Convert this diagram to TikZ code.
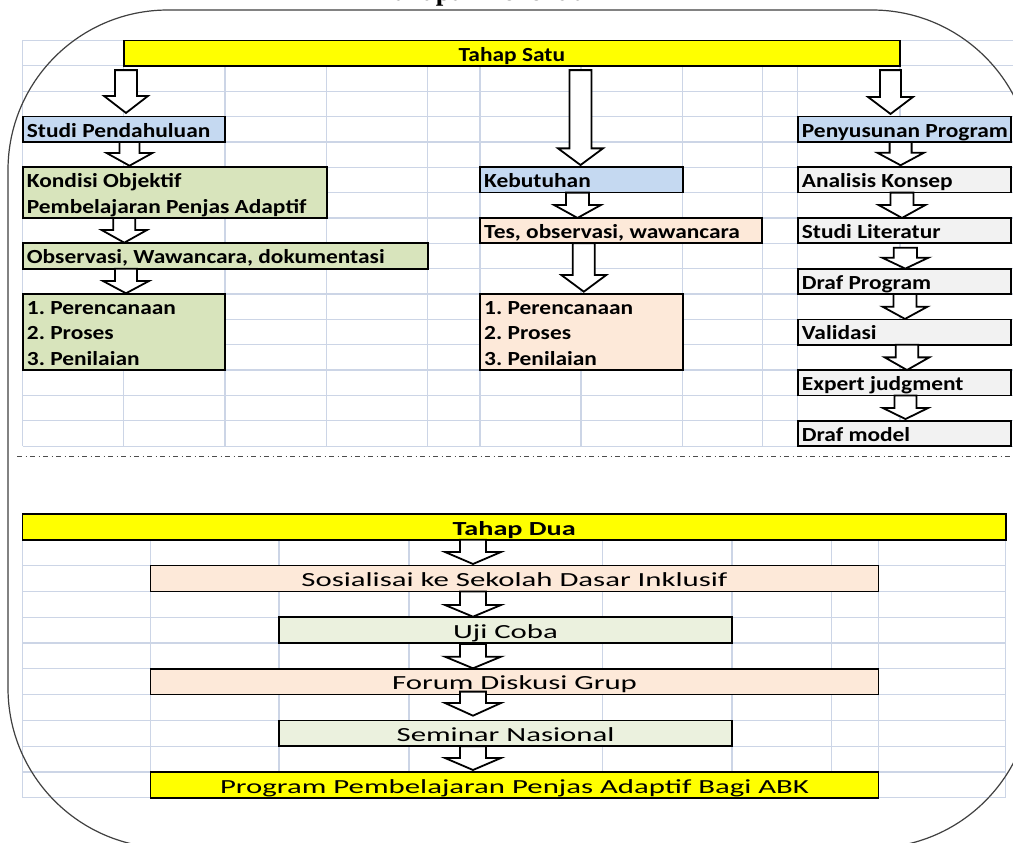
\documentclass[tikz,border=0pt]{standalone}
\usepackage{fontspec}
\usepackage{graphicx}
\usetikzlibrary{calc}
\newfontfamily\topf{Carlito}[FakeStretch=1.17]
\newfontfamily\botf{Carlito}[FakeStretch=1.54]
\newfontfamily\botbf{Carlito}[FakeStretch=1.41]
\newfontfamily\titlef{Liberation Serif}
\definecolor{yel}{HTML}{FFFF00}
\definecolor{blu}{HTML}{C5D9F1}
\definecolor{grn}{HTML}{D8E4BC}
\definecolor{pch}{HTML}{FDE9D9}
\definecolor{gry}{HTML}{F2F2F2}
\definecolor{lgr}{HTML}{EBF1DE}
\definecolor{gridc}{HTML}{CCD5E6}
\frenchspacing
\tikzset{
  gridline/.style={draw=gridc, line width=1.2pt},
  cellbx/.style={draw=black, line width=1.7pt, rectangle, inner sep=0pt, outer sep=0pt},
  ttext/.style={font=\topf\bfseries\fontsize{20}{24}\selectfont, inner sep=0pt, anchor=base west},
  ttextc/.style={font=\topf\bfseries\fontsize{20}{24}\selectfont, inner sep=0pt, anchor=base},
  btext/.style={font=\botf\fontsize{20}{24}\selectfont, inner sep=0pt, anchor=base},
  bbtext/.style={font=\botbf\bfseries\fontsize{20}{24}\selectfont, inner sep=0pt, anchor=base},
  blockarrow/.style={draw=black, fill=white, line width=1.8pt, line join=miter},
}
% #1 x-coordinate name, #2 from anchor, #3 to anchor, #4 top gap, #5 tip gap, #6 shaft half width, #7 head half width, #8 head length
\newcommand\blockarr[8]{%
  \draw[blockarrow] let \p1=(#1), \p2=(#2), \p3=(#3) in
    ({\x1-(#6pt)},{\y2-(#4pt)}) -- ({\x1+(#6pt)},{\y2-(#4pt)}) --
    ({\x1+(#6pt)},{\y3+(#5pt)+(#8pt)}) -- ({\x1+(#7pt)},{\y3+(#5pt)+(#8pt)}) --
    ({\x1},{\y3+(#5pt)}) --
    ({\x1-(#7pt)},{\y3+(#5pt)+(#8pt)}) -- ({\x1-(#6pt)},{\y3+(#5pt)+(#8pt)}) -- cycle;}
\begin{document}
\begin{tikzpicture}[x=1pt,y=-1pt]
\useasboundingbox (0,0) rectangle (1013,843);
\clip (0,0) rectangle (1013,843);
\fill[white] (0,0) rectangle (1013,843);

% title (mostly cut off at the top)
\node[font=\titlef\bfseries\fontsize{27}{30}\selectfont, inner sep=0pt, anchor=base west] (title) at (378,1) {Tahapan Penelitian};

% top grid
\foreach \i in {0,...,16} \draw[gridline] (22.7,{40.5+25.35*\i}) -- (1013,{40.5+25.35*\i});
\foreach \x in {22.7,123.7,225,326.7,427.7,480,581,682.7,762.3,797.7,900} \draw[gridline] (\x,40.5) -- (\x,446.1);

% bottom grid
\foreach \i in {0,...,11} \draw[gridline] (22.6,{514+25.8*\i}) -- (1005.8,{514+25.8*\i});
\foreach \x in {22.6,150.5,279,409,602.7,732,831.4,878.5,1005.8} \draw[gridline] (\x,514) -- (\x,797.8);

% separator
\draw[dash pattern=on 5pt off 3.5pt on 1pt off 3.5pt, line width=1pt, black!70] (17,456.7) -- (1013,456.7);

% ---------- Tahap Satu ----------
\node[cellbx, fill=yel, minimum width=776.3pt, minimum height=25.35pt] (ts) at (511.85,53.175) {};
\node[ttextc] (ts-t) at ([yshift=4.8pt]ts.south) {Tahap Satu};

\node[cellbx, fill=blu, minimum width=202.3pt, minimum height=25.35pt] (sp) at (123.85,129.225) {};
\node[ttext] (sp-t) at ([xshift=4pt,yshift=4.8pt]sp.south west) {Studi Pendahuluan};

\node[cellbx, fill=blu, minimum width=213.3pt, minimum height=25.35pt] (pp) at (904.35,129.225) {};
\node[ttext] (pp-t) at ([xshift=4pt,yshift=4.8pt]pp.south west) {Penyusunan Program};

\node[cellbx, fill=grn, minimum width=304pt, minimum height=50.7pt] (ko) at (174.7,192.6) {};
\node[ttext] (ko-t1) at ([xshift=4pt,yshift=30.15pt]ko.south west) {Kondisi Objektif};
\node[ttext] (ko-t2) at ([xshift=4pt,yshift=4.8pt]ko.south west) {Pembelajaran Penjas Adaptif};

\node[cellbx, fill=grn, minimum width=405pt, minimum height=25.35pt] (ob) at (225.2,255.975) {};
\node[ttext] (ob-t) at ([xshift=4pt,yshift=4.8pt]ob.south west) {Observasi, Wawancara, dokumentasi};

\node[cellbx, fill=grn, minimum width=202.3pt, minimum height=76.05pt] (la) at (123.85,332.025) {};
\node[ttext] (la-t1) at ([xshift=4pt,yshift=55.5pt]la.south west) {1. Perencanaan};
\node[ttext] (la-t2) at ([xshift=4pt,yshift=30.15pt]la.south west) {2. Proses};
\node[ttext] (la-t3) at ([xshift=4pt,yshift=4.8pt]la.south west) {3. Penilaian};

\node[cellbx, fill=blu, minimum width=202.7pt, minimum height=25.35pt] (kb) at (581.35,179.925) {};
\node[ttext] (kb-t) at ([xshift=4pt,yshift=4.8pt]kb.south west) {Kebutuhan};

\node[cellbx, fill=pch, minimum width=282.3pt, minimum height=25.35pt] (te) at (621.15,230.625) {};
\node[ttext] (te-t) at ([xshift=4pt,yshift=4.8pt]te.south west) {Tes, observasi, wawancara};

\node[cellbx, fill=pch, minimum width=202.7pt, minimum height=76.05pt] (lb) at (581.35,332.025) {};
\node[ttext] (lb-t1) at ([xshift=4pt,yshift=55.5pt]lb.south west) {1. Perencanaan};
\node[ttext] (lb-t2) at ([xshift=4pt,yshift=30.15pt]lb.south west) {2. Proses};
\node[ttext] (lb-t3) at ([xshift=4pt,yshift=4.8pt]lb.south west) {3. Penilaian};

\foreach \nm/\cy/\tx in {ak/179.925/Analisis Konsep, sl/230.625/Studi Literatur, dp/281.325/Draf Program, va/332.025/Validasi, ej/382.725/Expert judgment, dm/433.425/Draf model}{
  \node[cellbx, fill=gry, minimum width=213.3pt, minimum height=25.35pt] (\nm) at (904.35,\cy) {};
  \node[ttext] (\nm-t) at ([xshift=4pt,yshift=4.8pt]\nm.south west) {\tx};
}

% arrow axes
\coordinate (xa) at (126,0);
\coordinate (xb) at (580.5,0);
\coordinate (xc) at (890.5,0);
\coordinate (xd) at (129.5,0);
\coordinate (xe) at (124.3,0);
\coordinate (xf) at (126,0);
\coordinate (xg) at (577.5,0);
\coordinate (xh) at (583.8,0);
\coordinate (xi) at (900.6,0);
\coordinate (xj) at (902,0);
\coordinate (xk) at (905.3,0);
\coordinate (xl) at (905,0);
\coordinate (xm) at (907,0);
\coordinate (xn) at (905.5,0);
\coordinate (xo) at (473,0);

\blockarr{xa}{ts.south}{sp.north}{4.3}{3.6}{11}{22}{17}
\blockarr{xb}{ts.south}{kb.north}{4.3}{2.2}{11}{22.5}{16.7}
\blockarr{xc}{ts.south}{pp.north}{4.3}{2.6}{10.5}{22.5}{17}
\blockarr{xd}{sp.south}{ko.north}{0}{1.5}{10}{22.8}{12.7}
\blockarr{xe}{ko.south}{ob.north}{0}{0.6}{11}{22.7}{12.7}
\blockarr{xf}{ob.south}{la.north}{0}{0.7}{11}{23}{12.3}
\blockarr{xg}{kb.south}{te.north}{0}{0}{11.5}{23.5}{13}
\blockarr{xh}{te.south}{lb.north}{0}{2.3}{11}{22.5}{16.7}
\blockarr{xi}{pp.south}{ak.north}{0}{2}{11}{23.3}{12.5}
\blockarr{xj}{ak.south}{sl.north}{0}{0}{11.5}{23.5}{13}
\blockarr{xk}{sl.south}{dp.north}{4.4}{0}{11.6}{23.2}{11}
\blockarr{xl}{dp.south}{va.north}{0}{0.4}{11.5}{22.5}{12.3}
\blockarr{xm}{va.south}{ej.north}{0}{0}{11.3}{22.3}{12.7}
\blockarr{xn}{ej.south}{dm.north}{0}{1.7}{11}{22.5}{11}

% ---------- Tahap Dua ----------
\node[cellbx, fill=yel, minimum width=983.2pt, minimum height=25.8pt] (td) at (514.2,526.9) {};
\node[bbtext] (td-t) at ([yshift=4.8pt]td.south) {Tahap Dua};

\node[cellbx, fill=pch, minimum width=728pt, minimum height=25.8pt] (so) at (514.5,578.5) {};
\node[btext] (so-t) at ([yshift=4.8pt]so.south) {Sosialisai ke Sekolah Dasar Inklusif};

\node[cellbx, fill=lgr, minimum width=453pt, minimum height=25.8pt] (uj) at (505.5,630.1) {};
\node[btext] (uj-t) at ([yshift=4.8pt]uj.south) {Uji Coba};

\node[cellbx, fill=pch, minimum width=728pt, minimum height=25.8pt] (fg) at (514.5,681.7) {};
\node[btext] (fg-t) at ([yshift=4.8pt]fg.south) {Forum Diskusi Grup};

\node[cellbx, fill=lgr, minimum width=453pt, minimum height=25.8pt] (sn) at (505.5,733.3) {};
\node[btext] (sn-t) at ([yshift=4.8pt]sn.south) {Seminar Nasional};

\node[cellbx, fill=yel, minimum width=728pt, minimum height=25.8pt] (pr) at (514.5,784.9) {};
\node[btext] (pr-t) at ([yshift=4.8pt]pr.south) {Program Pembelajaran Penjas Adaptif Bagi ABK};

\blockarr{xo}{td.south}{so.north}{0}{1.6}{13}{28}{12}
\blockarr{xo}{so.south}{uj.north}{0}{0.5}{13}{28}{11.7}
\blockarr{xo}{uj.south}{fg.north}{1}{0.5}{13}{28}{11.6}
\blockarr{xo}{fg.south}{sn.north}{-3}{4.7}{13}{28}{12.7}
\blockarr{xo}{sn.south}{pr.north}{0}{2}{13}{28}{12}

% outer rounded frame
\draw[line width=1.2pt, black!75, rounded corners=160pt] (8,10) rectangle (1032,848);
\end{tikzpicture}
\end{document}
